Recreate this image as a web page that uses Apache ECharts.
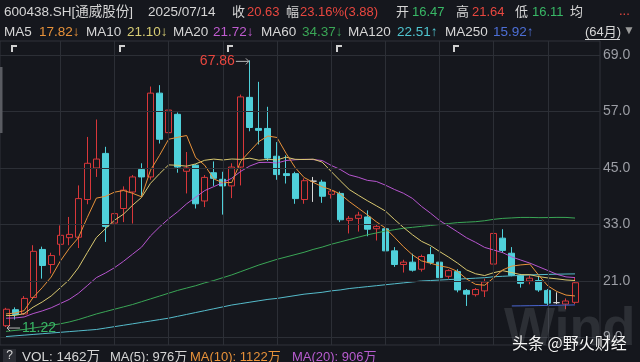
<!DOCTYPE html>
<html><head><meta charset="utf-8">
<script src="https://cdn.jsdelivr.net/npm/echarts@6/dist/echarts.min.js"></script>
<style>html,body{margin:0;padding:0;background:#15171d;overflow:hidden}#c{width:640px;height:362px}</style>
</head><body><div id="c"></div>
<script>
// ---- data (monthly, 64 months) ----
const months = ['2020/04','2020/05','2020/06','2020/07','2020/08','2020/09','2020/10','2020/11','2020/12',
'2021/01','2021/02','2021/03','2021/04','2021/05','2021/06','2021/07','2021/08','2021/09','2021/10','2021/11','2021/12',
'2022/01','2022/02','2022/03','2022/04','2022/05','2022/06','2022/07','2022/08','2022/09','2022/10','2022/11','2022/12',
'2023/01','2023/02','2023/03','2023/04','2023/05','2023/06','2023/07','2023/08','2023/09','2023/10','2023/11','2023/12',
'2024/01','2024/02','2024/03','2024/04','2024/05','2024/06','2024/07','2024/08','2024/09','2024/10','2024/11','2024/12',
'2025/01','2025/02','2025/03','2025/04','2025/05','2025/06','2025/07'];
const opens = [11.5,14.9,14.0,17.5,27.7,24.5,28.8,30.2,30.3,38.3, 45.0,48.1,33.3,36.4,39.9,44.7,43.1,60.9,52.5,56.4, 44.3,45.6,38.0,44.0,42.6,41.2,45.2,60.0,53.4,53.4, 47.5,43.8,43.8,38.3,42.2,42.0,39.4,39.6,33.9,34.3, 34.6,32.1,32.1,27.4,24.5,25.0,23.5,26.6,25.0,22.0, 23.0,19.0,18.1,18.9,24.6,30.1,26.9,22.2,21.0,21.1, 19.0,16.4,16.1,16.47];
const closes = [15.0,13.9,17.3,27.3,24.3,26.4,30.7,30.9,38.5,46.0, 46.9,32.6,35.3,40.3,43.1,43.1,60.9,51.1,57.3,45.2, 45.0,37.4,43.0,42.8,41.2,45.2,60.1,53.6,53.0,47.1, 43.6,43.4,38.5,42.3,42.2,39.0,40.1,34.0,34.3,35.0, 32.0,32.6,27.4,24.5,25.0,23.3,26.2,24.9,21.7,23.2, 19.1,18.2,19.2,20.8,31.1,27.5,22.2,20.5,21.6,19.1, 16.3,16.4,16.75,20.63];
const lows = [11.22,12.8,13.8,17.3,21.5,22.6,26.4,28.6,28.0,37.3, 43.1,29.3,29.8,33.5,33.2,38.9,42.5,50.2,51.6,44.0, 39.6,36.4,36.7,41.2,35.1,38.6,41.3,52.8,50.0,46.5, 42.5,41.7,37.4,37.4,37.8,37.6,38.5,33.5,31.1,31.5, 30.5,29.6,26.7,24.0,22.8,23.0,23.0,24.5,21.0,21.5, 18.6,15.7,17.7,17.6,24.0,27.0,22.0,19.6,20.3,18.7, 15.9,16.1,15.0,16.11];
const highs = [15.3,15.4,17.8,28.6,28.3,27.0,32.8,34.6,41.3,51.6, 55.3,49.5,36.0,41.1,43.5,46.0,62.3,62.6,57.7,56.8, 48.4,45.8,43.5,46.4,44.2,46.0,60.6,67.86,63.3,58.0, 50.5,47.7,44.2,42.8,43.1,42.5,40.5,40.0,34.8,35.7, 36.0,32.9,32.4,28.2,25.5,26.8,26.6,28.2,25.3,23.5, 23.5,19.3,19.5,21.5,31.5,32.0,28.2,22.5,22.2,22.0, 19.3,18.6,17.3,21.64];

const ma5 = [14.0,14.2,14.7,17.5,19.56,21.84,25.2,27.92,30.16,34.5, 38.6,38.98,39.86,40.22,39.64,38.88,44.54,47.7,51.1,51.52, 51.9,47.2,45.58,42.68,41.88,41.92,46.46,48.58,50.62,51.8, 51.48,48.14,45.12,42.98,41.96,41.04,40.38,39.48,37.88,36.48, 35.08,33.58,32.26,30.3,28.3,26.56,25.28,24.78,24.22,23.86, 23.02,21.42,20.28,20.1,21.68,23.36,24.16,24.42,24.58,22.18, 19.94,18.76,18.01,17.82];
const ma10 = [13.65,13.69,14.07,15.45,16.53,17.82,19.54,21.28,23.78,27.03, 30.22,32.09,33.89,35.19,37.07,38.74,41.76,43.78,45.66,45.58, 45.39,45.87,46.64,46.89,46.70,46.91,46.83,47.08,46.65,46.84, 46.70,47.30,46.85,46.80,46.88,46.26,44.26,42.30,40.43,39.22, 38.06,36.98,35.87,34.09,32.39,30.82,29.43,28.52,27.26,26.08, 24.79,23.35,22.53,22.16,22.77,23.19,22.79,22.35,22.34,21.93, 21.65,21.46,21.22,21.10];
const ma20 = [13.1,13.15,13.36,14.08,14.64,15.31,16.2,17.09,18.37,20.02, 21.71,22.69,23.81,25.17,26.68,28.18,30.58,32.48,34.20,35.70, 37.40,38.80,40.20,41.04,41.89,42.83,44.30,45.43,46.16,46.21, 46.05,46.59,46.75,46.85,46.79,46.59,45.55,44.69,43.54,43.03, 42.38,42.14,41.36,40.45,39.64,38.54,36.85,35.41,33.85,32.65, 31.43,30.17,29.20,28.13,27.58,27.01,26.11,25.44,24.80,24.01, 23.22,22.41,21.87,21.72];
const ma60 = [10.3,10.5,10.7,11.0,11.3,11.6,11.9,12.3,12.8,13.4, 14.0,14.5,15.0,15.5,16.0,16.6,17.2,17.8,18.4,19.0, 19.5,20.0,20.6,21.1,21.7,22.3,23.0,23.7,24.4,25.0, 25.6,26.1,26.6,27.1,27.7,28.2,28.8,29.3,29.8,30.3, 30.8,31.2,31.6,31.9,32.2,32.4,32.6,32.8,33.0,33.2, 33.4,33.5,33.6,33.8,34.1,34.3,34.4,34.5,34.5,34.45, 34.47,34.51,34.50,34.37];
const ma120 = [9.2,9.35,9.5,9.65,9.8,9.95,10.1,10.25,10.4,10.55, 10.7,11.0,11.3,11.6,11.9,12.2,12.5,12.8,13.1,13.5, 13.9,14.3,14.7,15.1,15.5,15.9,16.2,16.5,16.8,17.1, 17.3,17.6,17.9,18.2,18.4,18.6,18.9,19.1,19.4,19.6, 19.8,20.0,20.2,20.4,20.6,20.8,21.0,21.1,21.2,21.3, 21.4,21.5,21.6,21.7,21.9,22.0,22.1,22.2,22.3,22.35, 22.4,22.45,22.48,22.51];
const ma250 = new Array(56).fill(null).concat([15.70,15.72,15.75,15.78,15.82,15.85,15.88,15.92]);

const priceTicks = [9, 21, 33, 45, 57, 69];
const halfYearIdx = [6, 12, 18, 24, 30, 36, 42, 48, 54, 60];
const eventIdx = [1, 13, 25, 37, 50];
const volText = {vol: '1462万', ma5: '976万', ma10: '1122万', ma20: '906万'};

// ---- styling ----
const BG = '#15171d';
const UP = '#d8373a', DOWN = '#4fd0da';
const C5 = '#e8923a', C10 = '#d9c870', C20 = '#b755cf', C60 = '#3aa656', C120 = '#55bccb', C250 = '#4a66d2';
const TXT = '#d6d6d6', RED = '#e8473f', GREEN = '#38b866';
const FONT = '"Liberation Sans","Noto Sans CJK SC",sans-serif';
const PMAX = 69 + 14 / 4.7083, PMIN = 69 - 290 / 4.7083;

const cats = months.concat([' ', '  ']);
const ohlc = months.map((m, i) => [opens[i], closes[i], lows[i], highs[i]]);

const chart = echarts.init(document.getElementById('c'));
function maLine(name, data, color) {
  return {name, type: 'line', xAxisIndex: 0, yAxisIndex: 0, data, showSymbol: false, symbol: 'none',
    silent: true, z: 4, lineStyle: {width: 1, color}, connectNulls: false};
}
chart.setOption({
  backgroundColor: BG,
  animation: false,
  grid: [
    {left: 1.5, top: 41, width: 596.1, height: 304},
    {left: 0, top: 41, width: 600, height: 304, show: true, borderColor: '#30333a', borderWidth: 1, backgroundColor: 'rgba(0,0,0,0)'}
  ],
  xAxis: [
    {gridIndex: 0, type: 'category', data: cats, boundaryGap: true, show: false},
    {gridIndex: 1, type: 'value', min: 0, max: 1, show: false}
  ],
  yAxis: [
    {gridIndex: 0, type: 'value', min: PMIN, max: PMAX, show: false},
    {gridIndex: 1, type: 'value', min: PMIN, max: PMAX, show: false}
  ],
  series: [
    {type: 'line', xAxisIndex: 1, yAxisIndex: 1, data: [], z: 1, silent: true,
      markLine: {silent: true, symbol: ['none', 'none'], animation: false,
        lineStyle: {color: '#2c2f36', width: 1, type: 'solid'},
        label: {show: true, position: 'end', distance: 3, color: '#9c9ea5', fontSize: 14, fontFamily: FONT,
          formatter: p => Number(p.value).toFixed(1)},
        emphasis: {disabled: true},
        data: priceTicks.map(v => ({yAxis: v}))}},
    {type: 'line', xAxisIndex: 0, yAxisIndex: 0, data: [], z: 1, silent: true,
      markLine: {silent: true, symbol: ['none', 'none'], animation: false,
        lineStyle: {color: '#2c2f36', width: 1, type: 'solid'}, label: {show: false},
        emphasis: {disabled: true},
        data: halfYearIdx.map(i => ({xAxis: months[i]}))}},
    {type: 'candlestick', xAxisIndex: 0, yAxisIndex: 0, data: ohlc, barWidth: '72%', z: 3, silent: true,
      itemStyle: {color: 'rgba(0,0,0,0)', color0: DOWN, borderColor: UP, borderColor0: DOWN, borderColorDoji: '#d8d8d8', borderWidth: 1}},
    maLine('MA120', ma120, C120),
    maLine('MA250', ma250, C250),
    maLine('MA60', ma60, C60),
    maLine('MA20', ma20, C20),
    maLine('MA10', ma10, C10),
    maLine('MA5', ma5, C5)
  ]
});

// ---- annotations & header text ----
function txt(x, y, text, fill, size, extra) {
  return {type: 'text', x, y, silent: true, z: 100,
    style: Object.assign({text, fill, font: (size || 13) + 'px ' + FONT, verticalAlign: 'middle', align: 'left'}, extra || {})};
}
const g = [];
const last = months.length - 1;
const chg = closes[last] - closes[last - 1];
const pct = chg / closes[last - 1] * 100;
// row 1
g.push(txt(4, 12, '600438.SH[通威股份]', TXT, 13.5));
g.push(txt(148, 12, '2025/07/14', TXT, 13.5));
g.push(txt(232, 12, '收', TXT));
g.push(txt(247, 12, closes[last].toFixed(2), RED));
g.push(txt(286, 12, '幅', TXT));
g.push(txt(300, 12, pct.toFixed(2) + '%(' + chg.toFixed(2) + ')', RED));
g.push(txt(396, 12, '开', TXT));
g.push(txt(412, 12, opens[last].toFixed(2), GREEN));
g.push(txt(456, 12, '高', TXT));
g.push(txt(472, 12, highs[last].toFixed(2), RED));
g.push(txt(515, 12, '低', TXT));
g.push(txt(532, 12, lows[last].toFixed(2), GREEN));
g.push(txt(570, 12, '均', TXT));
g.push(txt(619, 11, '...', RED));
// row 2 (MA legend)
function arrow(a) { return a[a.length - 1] >= a[a.length - 2] ? '↑' : '↓'; }
const legend = [
  ['MA5', 4, 39, ma5, C5], ['MA10', 86, 127, ma10, '#d6cc74'], ['MA20', 173, 213, ma20, '#c05cd0'],
  ['MA60', 261, 302, ma60, C60], ['MA120', 348, 397, ma120, '#4fc4cf'], ['MA250', 445, 493, ma250, '#4d6fd6']
];
legend.forEach(([n, xl, xv, arr, col]) => {
  g.push(txt(xl, 32, n, TXT, 13.5));
  g.push(txt(xv, 32, arr[arr.length - 1].toFixed(2) + arrow(arr), col, 13.5));
});
g.push(txt(585, 32, '(' + months.length + '月)', TXT));
g.push({type: 'line', z: 100, silent: true, shape: {x1: 585, y1: 39.5, x2: 620, y2: 39.5}, style: {stroke: TXT, lineWidth: 1}});
g.push(txt(623, 31, '▼', '#9a9a9a', 12));
// left scroll marker
g.push({type: 'rect', z: 100, silent: true, shape: {x: 0, y: 67, width: 2.5, height: 66}, style: {fill: '#5a5c62'}});

// max / min annotations from data
const hiIdx = highs.indexOf(Math.max(...highs));
const loIdx = lows.indexOf(Math.min(...lows));
const pHi = chart.convertToPixel({xAxisIndex: 0, yAxisIndex: 0}, [months[hiIdx], highs[hiIdx]]);
const pLo = chart.convertToPixel({xAxisIndex: 0, yAxisIndex: 0}, [months[loIdx], lows[loIdx]]);
g.push(txt(pHi[0] - 15, pHi[1] + 1, highs[hiIdx].toFixed(2), RED, 14, {align: 'right'}));
g.push({type: 'polyline', z: 100, silent: true, shape: {points: [[pHi[0] - 14, pHi[1] + 1], [pHi[0] - 1, pHi[1] + 1]]}, style: {stroke: '#b8b8b8', lineWidth: 1}});
g.push({type: 'polyline', z: 100, silent: true, shape: {points: [[pHi[0] - 4, pHi[1] - 2], [pHi[0] - 1, pHi[1] + 1], [pHi[0] - 4, pHi[1] + 4]]}, style: {stroke: '#b8b8b8', lineWidth: 1, fill: null}});
g.push({type: 'polyline', z: 100, silent: true, shape: {points: [[pLo[0] + 14, pLo[1] + 1], [pLo[0] + 1, pLo[1] + 1]]}, style: {stroke: '#b8b8b8', lineWidth: 1}});
g.push({type: 'polyline', z: 100, silent: true, shape: {points: [[pLo[0] + 4, pLo[1] - 2], [pLo[0] + 1, pLo[1] + 1], [pLo[0] + 4, pLo[1] + 4]]}, style: {stroke: '#b8b8b8', lineWidth: 1, fill: null}});
g.push(txt(pLo[0] + 16, pLo[1] + 1, lows[loIdx].toFixed(2), GREEN, 14));

// event corner markers
eventIdx.forEach(i => {
  const p = chart.convertToPixel({xAxisIndex: 0, yAxisIndex: 0}, [months[i], 60]);
  const x = Math.round(p[0] - 4.5);
  g.push({type: 'polyline', z: 100, silent: true, shape: {points: [[x + 1, 52], [x + 1, 46], [x + 6, 46]]}, style: {stroke: '#d0d0d0', lineWidth: 2, fill: null}});
});

// bottom VOL row
g.push({type: 'rect', z: 100, silent: true, shape: {x: 3, y: 349, width: 13, height: 13}, style: {fill: '#2b2d34'}});
g.push(txt(9.5, 356, '?', TXT, 12, {align: 'center'}));
g.push(txt(22, 357, 'VOL: ' + volText.vol, TXT, 13.5));
g.push(txt(110, 357, 'MA(5): ' + volText.ma5, TXT, 13));
g.push(txt(190, 357, 'MA(10): ' + volText.ma10, C5, 13));
g.push(txt(292, 357, 'MA(20): ' + volText.ma20, '#b85cd0', 13));

// watermarks
g.push({type: 'text', x: 504, y: 357, z: 90, silent: true, style: {text: 'Wind', fill: 'rgba(200,205,215,0.13)', font: 'bold 54px "Liberation Sans",sans-serif', verticalAlign: 'bottom', align: 'left'}});
g.push({type: 'text', x: 512, y: 343, z: 110, silent: true, style: {text: '头条 @野火财经', fill: '#f4f4f4', font: '16px "Noto Sans CJK SC",sans-serif', verticalAlign: 'middle', align: 'left', textShadowBlur: 2, textShadowColor: 'rgba(0,0,0,0.6)'}});

chart.setOption({graphic: g});
</script>
</body></html>
